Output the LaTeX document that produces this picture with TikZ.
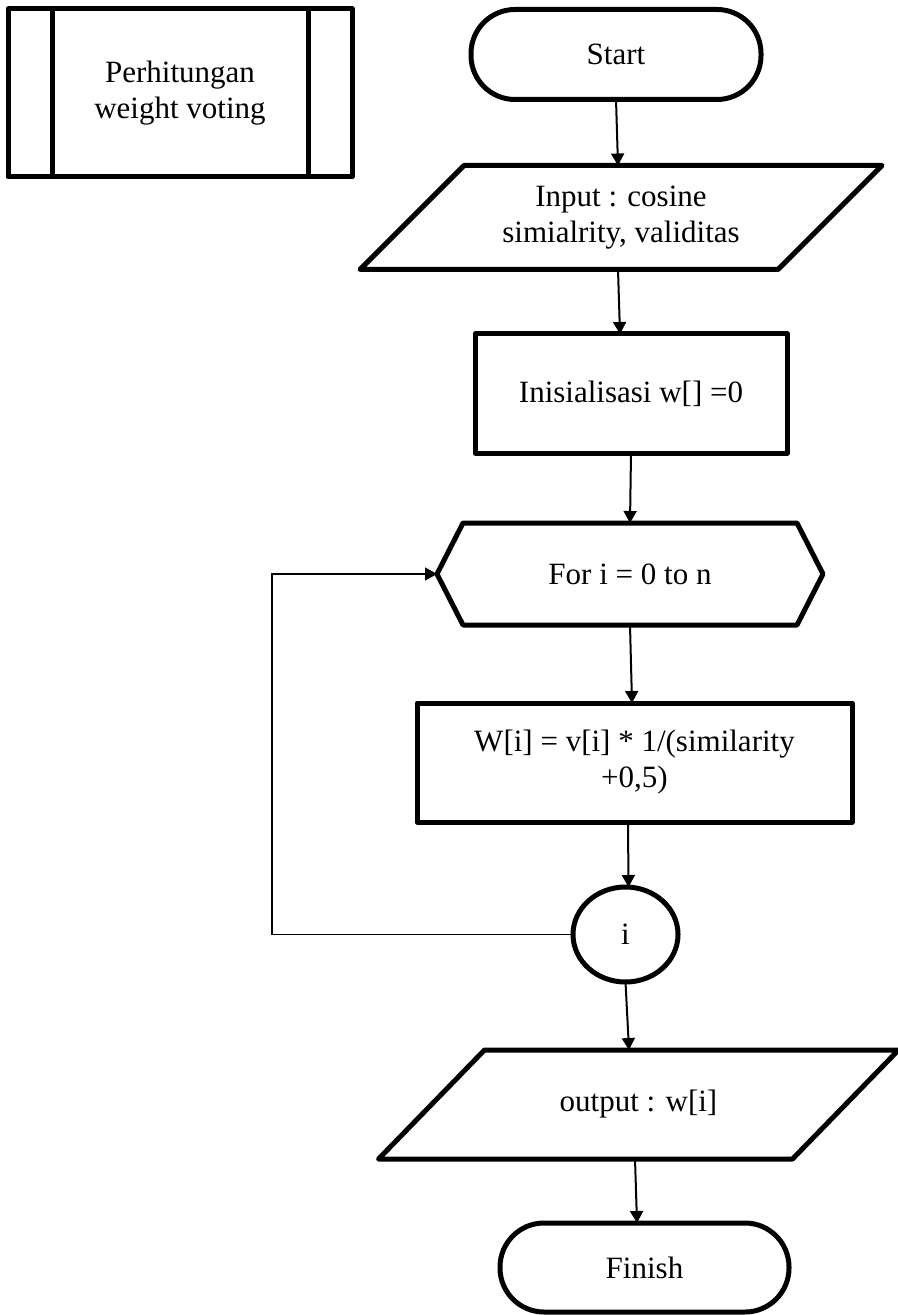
\documentclass[tikz,border=0pt]{standalone}
\usepackage{fontspec}
\setmainfont{Liberation Serif}
\usetikzlibrary{shapes.geometric,arrows.meta}

\begin{document}
\begin{tikzpicture}[x=0.5pt,y=-0.5pt,
  every node/.style={font=\fontsize{15.5pt}{18pt}\selectfont,
    inner sep=0pt, outer sep=0pt, align=center},
  outline/.style={line width=2.5pt, line join=round},
  terminal/.style={outline, draw, rounded corners=22pt,
    minimum width=#1, minimum height=45pt},
  procbox/.style={outline, draw, minimum width=#1, minimum height=59.5pt},
  iobox/.style={minimum width=#1, minimum height=52pt},
  loopbox/.style={minimum width=167pt, minimum height=51pt},
  connector/.style={outline, draw, ellipse, minimum width=52.5pt, minimum height=47.5pt},
  subproc/.style={outline, draw, minimum width=172pt, minimum height=84pt},
  flow/.style={line width=1pt, -{Triangle[length=6pt,width=6.5pt]}},
  loopflow/.style={line width=0.75pt, -{Triangle[length=6pt,width=6.5pt]}}
]
\useasboundingbox (0,0) rectangle (898,1315);
\fill[white] (0,0) rectangle (898,1315);

% predefined process block
\node[subproc] (pre) at (180,93) {Perhitungan\\weight voting};
\draw[outline] ([xshift=22pt]pre.north west) -- ([xshift=22pt]pre.south west);
\draw[outline] ([xshift=-22pt]pre.north east) -- ([xshift=-22pt]pre.south east);

% main flow
\node[terminal=145pt] (start) at (616,54.5) {Start};

\node[iobox=209pt] (in) at (621,217.5) {Input : cosine\\simialrity, validitas};
\draw[outline] ([xshift=26pt]in.north west) -- ([xshift=26pt]in.north east)
  -- ([xshift=-26pt]in.south east) -- ([xshift=-26pt]in.south west) -- cycle;

\node[procbox=156pt] (init) at (631,393.5) {Inisialisasi w[] =0};

\node[loopbox] (for) at (630,574) {For i = 0 to n};
\draw[outline] (for.north west) -- (for.north east) -- ([xshift=13pt]for.east)
  -- (for.south east) -- (for.south west) -- ([xshift=-13pt]for.west) -- cycle;

\node[procbox=217.5pt] (calc) at (634.5,762.5) {W[i] = v[i] * 1/(similarity\\+0,5)};

\node[connector] (idx) at (625.5,934.5) {i};

\node[iobox=207pt, minimum height=54.5pt] (out) at (638.5,1104.5) {output : w[i]};
\draw[outline] ([xshift=26.5pt]out.north west) -- ([xshift=26.5pt]out.north east)
  -- ([xshift=-26.5pt]out.south east) -- ([xshift=-26.5pt]out.south west) -- cycle;

\node[terminal=144.5pt, minimum height=44.5pt] (fin) at (644.5,1267.5) {Finish};

% connectors
\draw[flow] (start.south) -- ([xshift=-1.5pt]in.north);
\draw[flow] ([xshift=-1.5pt]in.south) -- ([xshift=-5.5pt]init.north);
\draw[flow] (init.south) -- (for.north);
\draw[flow] (for.south) -- ([xshift=-1.25pt]calc.north);
\draw[flow] ([xshift=-3.25pt]calc.south) -- ([xshift=1.5pt]idx.north);
\draw[flow] (idx.south) -- ([xshift=-4.75pt]out.north);
\draw[flow] ([xshift=-1.75pt]out.south) -- ([xshift=-3.75pt]fin.north);

% loop back to the for block
\coordinate (loopx) at (272,574);
\draw[loopflow] (idx.west) -| (loopx) -- ([xshift=-13pt]for.west);
\end{tikzpicture}
\end{document}
